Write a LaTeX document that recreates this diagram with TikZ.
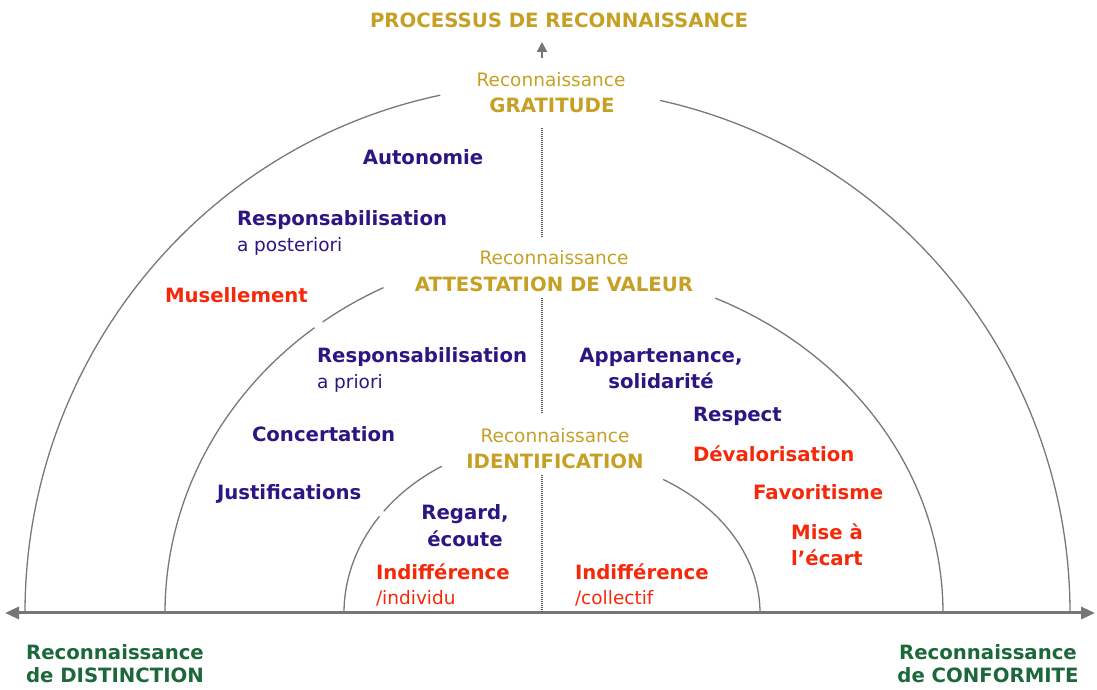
\documentclass[tikz,border=0pt]{standalone}
\usepackage{fontspec}
\setmainfont{DejaVu Sans}
\usetikzlibrary{arrows.meta}
\definecolor{goldt}{RGB}{198,160,36}
\definecolor{navyt}{RGB}{46,22,130}
\definecolor{redt}{RGB}{245,40,10}
\definecolor{greent}{RGB}{28,104,58}
\definecolor{arcgray}{RGB}{120,120,120}
\definecolor{axisgray}{RGB}{118,118,118}
\definecolor{dotgray}{RGB}{85,85,85}
\tikzset{
  lbl/.style={inner sep=0pt, outer sep=0pt},
  bf/.style={lbl, font=\fontsize{19.7}{24}\selectfont\bfseries},
  rf/.style={lbl, font=\fontsize{18.5}{24}\selectfont},
  goldb/.style={bf, text=goldt},
  goldr/.style={rf, text=goldt},
  navyb/.style={bf, text=navyt},
  navyr/.style={rf, text=navyt},
  redb/.style={bf, text=redt},
  redr/.style={rf, text=redt},
  greenb/.style={bf, text=greent},
  arcline/.style={draw=arcgray, line width=1.3pt},
  dotline/.style={draw=dotgray, line width=1.6pt, dash pattern=on 1.1pt off 0.9pt},
  axisline/.style={draw=axisgray, line width=3pt, {Triangle[length=14pt,width=12pt]}-{Triangle[length=14pt,width=12pt]}},
  uparrow/.style={draw=axisgray, line width=2pt, -{Triangle[length=10pt,width=10pt]}}
}
\begin{document}
\begin{tikzpicture}[x=1pt,y=1pt]
\useasboundingbox (0,0) rectangle (1097,690);

% centres of the arcs
\coordinate (O) at (547,77);
\coordinate (M) at (554,77);
\coordinate (I) at (552,77);

% arcs
\draw[arcline] ([shift={(0:523 and 525)}]O) arc[start angle=0, end angle=77.5, x radius=523, y radius=525];
\draw[arcline] ([shift={(101.8:522 and 529)}]O) arc[start angle=101.8, end angle=180, x radius=522, y radius=529];
\draw[arcline] ([shift={(0:389 and 346)}]M) arc[start angle=0, end angle=65.5, x radius=389, y radius=346];
\draw[arcline] ([shift={(116:389 and 362)}]M) arc[start angle=116, end angle=126.5, x radius=389, y radius=362];
\draw[arcline] ([shift={(128:389 and 362)}]M) arc[start angle=128, end angle=180, x radius=389, y radius=362];
\draw[arcline] ([shift={(0:208 and 158)}]I) arc[start angle=0, end angle=57.7, x radius=208, y radius=158];
\draw[arcline] ([shift={(122:208 and 173)}]I) arc[start angle=122, end angle=144, x radius=208, y radius=173];
\draw[arcline] ([shift={(146:208 and 173)}]I) arc[start angle=146, end angle=180, x radius=208, y radius=173];

% axis
\coordinate (axL) at (5,77);
\coordinate (axR) at (1095,77);
\draw[axisline] (axL) -- (axR);

% dotted vertical line
\coordinate (d1a) at (542,562);
\coordinate (d1b) at (542,453);
\coordinate (d2a) at (542,392);
\coordinate (d2b) at (542,277);
\coordinate (d3a) at (542,215);
\coordinate (d3b) at (542,78);
\draw[dotline] (d1a) -- (d1b);
\draw[dotline] (d2a) -- (d2b);
\draw[dotline] (d3a) -- (d3b);

% title and small arrow
\node[goldb, anchor=base] (title) at (559,662) {PROCESSUS DE RECONNAISSANCE};
\coordinate (upA) at (542,632);
\coordinate (upB) at (542,648);
\draw[uparrow] (upA) -- (upB);

% gratitude
\node[goldr, anchor=base] (recG) at (551,603) {Reconnaissance};
\node[goldb, anchor=base] (grat) at (552,577) {GRATITUDE};
\node[navyb, anchor=base] (auto) at (423,525) {Autonomie};
\node[navyb, anchor=base west] (respA) at (237,464) {Responsabilisation};
\node[navyr, anchor=base west] (post) at (237,438) {a posteriori};
\node[redb, anchor=base west] (musel) at (165,387) {Musellement};

% attestation de valeur
\node[goldr, anchor=base] (recA) at (554,425) {Reconnaissance};
\node[goldb, anchor=base] (attest) at (554,398) {ATTESTATION DE VALEUR};
\node[navyb, anchor=base west] (respB) at (317,327) {Responsabilisation};
\node[navyr, anchor=base west] (prio) at (317,301) {a priori};
\node[navyb, anchor=base] (appart) at (661,327) {Appartenance,};
\node[navyb, anchor=base] (solid) at (661,301) {solidarité};
\node[navyb, anchor=base west] (resp) at (693,268) {Respect};
\node[navyb, anchor=base west] (conc) at (252,248) {Concertation};
\node[redb, anchor=base west] (deval) at (693,228) {Dévalorisation};
\node[navyb, anchor=base west] (just) at (217,190) {Justifications};
\node[redb, anchor=base west] (favo) at (753,190) {Favoritisme};
\node[redb, anchor=base] (mise) at (827,150) {Mise à};
\node[redb, anchor=base] (ecart) at (827,124) {l’écart};

% identification
\node[goldr, anchor=base] (recI) at (555,247) {Reconnaissance};
\node[goldb, anchor=base] (ident) at (555,221) {IDENTIFICATION};
\node[navyb, anchor=base] (regard) at (465,170) {Regard,};
\node[navyb, anchor=base] (ecoute) at (465,143) {écoute};
\node[redb, anchor=base west] (indA) at (376,110) {Indifférence};
\node[redr, anchor=base west] (indiv) at (376,85) {/individu};
\node[redb, anchor=base west] (indB) at (575,110) {Indifférence};
\node[redr, anchor=base west] (coll) at (575,85) {/collectif};

% axis labels
\node[greenb, anchor=base] (distA) at (115,30) {Reconnaissance};
\node[greenb, anchor=base] (distB) at (115,7) {de DISTINCTION};
\node[greenb, anchor=base] (confA) at (988,30) {Reconnaissance};
\node[greenb, anchor=base] (confB) at (988,7) {de CONFORMITE};
\end{tikzpicture}
\end{document}
